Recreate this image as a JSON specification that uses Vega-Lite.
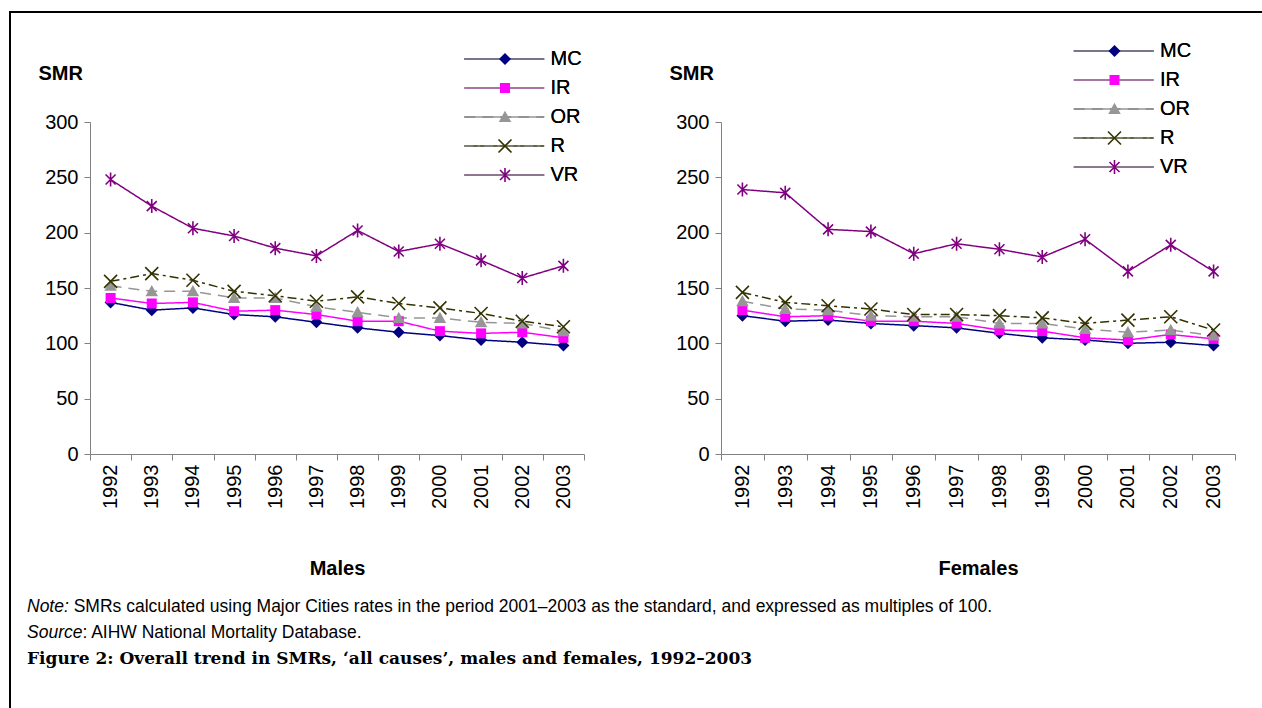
{
  "$schema": "https://vega.github.io/schema/vega-lite/v6.json",
  "padding": {"left": 8, "top": 10, "right": 0, "bottom": 0},
  "background": "white",
  "bounds": "flush",
  "spacing": 137,
  "resolve": {"scale": {"stroke": "independent", "strokeDash": "independent", "fill": "independent", "shape": "independent"}, "legend": {"stroke": "independent", "strokeDash": "independent", "fill": "independent", "shape": "independent"}},
  "datasets": {
    "males": [
      {"region": "MC", "year": 1992, "smr": 137}, {"region": "MC", "year": 1993, "smr": 130}, {"region": "MC", "year": 1994, "smr": 132}, {"region": "MC", "year": 1995, "smr": 126}, {"region": "MC", "year": 1996, "smr": 124}, {"region": "MC", "year": 1997, "smr": 119}, {"region": "MC", "year": 1998, "smr": 114}, {"region": "MC", "year": 1999, "smr": 110}, {"region": "MC", "year": 2000, "smr": 107}, {"region": "MC", "year": 2001, "smr": 103}, {"region": "MC", "year": 2002, "smr": 101}, {"region": "MC", "year": 2003, "smr": 98},
      {"region": "IR", "year": 1992, "smr": 141}, {"region": "IR", "year": 1993, "smr": 136}, {"region": "IR", "year": 1994, "smr": 137}, {"region": "IR", "year": 1995, "smr": 129}, {"region": "IR", "year": 1996, "smr": 130}, {"region": "IR", "year": 1997, "smr": 126}, {"region": "IR", "year": 1998, "smr": 120}, {"region": "IR", "year": 1999, "smr": 120}, {"region": "IR", "year": 2000, "smr": 111}, {"region": "IR", "year": 2001, "smr": 109}, {"region": "IR", "year": 2002, "smr": 110}, {"region": "IR", "year": 2003, "smr": 105},
      {"region": "OR", "year": 1992, "smr": 152}, {"region": "OR", "year": 1993, "smr": 147}, {"region": "OR", "year": 1994, "smr": 147}, {"region": "OR", "year": 1995, "smr": 141}, {"region": "OR", "year": 1996, "smr": 141}, {"region": "OR", "year": 1997, "smr": 133}, {"region": "OR", "year": 1998, "smr": 128}, {"region": "OR", "year": 1999, "smr": 123}, {"region": "OR", "year": 2000, "smr": 123}, {"region": "OR", "year": 2001, "smr": 119}, {"region": "OR", "year": 2002, "smr": 118}, {"region": "OR", "year": 2003, "smr": 111},
      {"region": "R", "year": 1992, "smr": 156}, {"region": "R", "year": 1993, "smr": 163}, {"region": "R", "year": 1994, "smr": 157}, {"region": "R", "year": 1995, "smr": 147}, {"region": "R", "year": 1996, "smr": 143}, {"region": "R", "year": 1997, "smr": 138}, {"region": "R", "year": 1998, "smr": 142}, {"region": "R", "year": 1999, "smr": 136}, {"region": "R", "year": 2000, "smr": 132}, {"region": "R", "year": 2001, "smr": 127}, {"region": "R", "year": 2002, "smr": 120}, {"region": "R", "year": 2003, "smr": 115},
      {"region": "VR", "year": 1992, "smr": 248}, {"region": "VR", "year": 1993, "smr": 224}, {"region": "VR", "year": 1994, "smr": 204}, {"region": "VR", "year": 1995, "smr": 197}, {"region": "VR", "year": 1996, "smr": 186}, {"region": "VR", "year": 1997, "smr": 179}, {"region": "VR", "year": 1998, "smr": 202}, {"region": "VR", "year": 1999, "smr": 183}, {"region": "VR", "year": 2000, "smr": 190}, {"region": "VR", "year": 2001, "smr": 175}, {"region": "VR", "year": 2002, "smr": 159}, {"region": "VR", "year": 2003, "smr": 170}
    ],
    "females": [
      {"region": "MC", "year": 1992, "smr": 125}, {"region": "MC", "year": 1993, "smr": 120}, {"region": "MC", "year": 1994, "smr": 121}, {"region": "MC", "year": 1995, "smr": 118}, {"region": "MC", "year": 1996, "smr": 116}, {"region": "MC", "year": 1997, "smr": 114}, {"region": "MC", "year": 1998, "smr": 109}, {"region": "MC", "year": 1999, "smr": 105}, {"region": "MC", "year": 2000, "smr": 103}, {"region": "MC", "year": 2001, "smr": 100}, {"region": "MC", "year": 2002, "smr": 101}, {"region": "MC", "year": 2003, "smr": 98},
      {"region": "IR", "year": 1992, "smr": 130}, {"region": "IR", "year": 1993, "smr": 124}, {"region": "IR", "year": 1994, "smr": 125}, {"region": "IR", "year": 1995, "smr": 120}, {"region": "IR", "year": 1996, "smr": 120}, {"region": "IR", "year": 1997, "smr": 118}, {"region": "IR", "year": 1998, "smr": 112}, {"region": "IR", "year": 1999, "smr": 111}, {"region": "IR", "year": 2000, "smr": 105}, {"region": "IR", "year": 2001, "smr": 103}, {"region": "IR", "year": 2002, "smr": 108}, {"region": "IR", "year": 2003, "smr": 104},
      {"region": "OR", "year": 1992, "smr": 138}, {"region": "OR", "year": 1993, "smr": 131}, {"region": "OR", "year": 1994, "smr": 130}, {"region": "OR", "year": 1995, "smr": 125}, {"region": "OR", "year": 1996, "smr": 124}, {"region": "OR", "year": 1997, "smr": 124}, {"region": "OR", "year": 1998, "smr": 118}, {"region": "OR", "year": 1999, "smr": 118}, {"region": "OR", "year": 2000, "smr": 113}, {"region": "OR", "year": 2001, "smr": 110}, {"region": "OR", "year": 2002, "smr": 112}, {"region": "OR", "year": 2003, "smr": 107},
      {"region": "R", "year": 1992, "smr": 146}, {"region": "R", "year": 1993, "smr": 137}, {"region": "R", "year": 1994, "smr": 134}, {"region": "R", "year": 1995, "smr": 131}, {"region": "R", "year": 1996, "smr": 126}, {"region": "R", "year": 1997, "smr": 126}, {"region": "R", "year": 1998, "smr": 125}, {"region": "R", "year": 1999, "smr": 123}, {"region": "R", "year": 2000, "smr": 118}, {"region": "R", "year": 2001, "smr": 121}, {"region": "R", "year": 2002, "smr": 124}, {"region": "R", "year": 2003, "smr": 112},
      {"region": "VR", "year": 1992, "smr": 239}, {"region": "VR", "year": 1993, "smr": 236}, {"region": "VR", "year": 1994, "smr": 203}, {"region": "VR", "year": 1995, "smr": 201}, {"region": "VR", "year": 1996, "smr": 181}, {"region": "VR", "year": 1997, "smr": 190}, {"region": "VR", "year": 1998, "smr": 185}, {"region": "VR", "year": 1999, "smr": 178}, {"region": "VR", "year": 2000, "smr": 194}, {"region": "VR", "year": 2001, "smr": 165}, {"region": "VR", "year": 2002, "smr": 189}, {"region": "VR", "year": 2003, "smr": 165}
    ]
  },
  "hconcat": [
    {
      "width": 494,
      "height": 332,
      "data": {"name": "males"},
      "resolve": {"axis": {"x": "independent", "y": "independent"}},
      "layer": [
        {
          "mark": {"type": "line", "strokeWidth": 1.5},
          "encoding": {
            "x": {"field": "year", "type": "quantitative", "scale": {"domain": [1991.5, 2003.5], "nice": false, "zero": false},
              "axis": {"orient": "bottom", "values": [1991.5, 1992.5, 1993.5, 1994.5, 1995.5, 1996.5, 1997.5, 1998.5, 1999.5, 2000.5, 2001.5, 2002.5, 2003.5], "labels": false, "ticks": true, "tickSize": 6, "tickColor": "#808080", "domainColor": "#808080", "title": null, "grid": false}},
            "y": {"field": "smr", "type": "quantitative", "scale": {"domain": [0, 300], "nice": false},
              "axis": {"orient": "left", "values": [0, 50, 100, 150, 200, 250, 300], "tickSize": 6, "tickColor": "#808080", "domainColor": "#808080", "labelFontSize": 20, "labelPadding": 6, "grid": false, "title": "SMR", "titleAngle": 0, "titleAlign": "left", "titleBaseline": "middle", "titleX": -52, "titleY": -49, "titleFontSize": 20, "titleFontWeight": "bold"}},
            "stroke": {"field": "region", "type": "nominal", "sort": ["MC", "IR", "OR", "R", "VR"], "scale": {"range": ["#000080", "#FF00FF", "#969696", "#333300", "#800080"]},
              "legend": {"orient": "none", "legendX": 404.25, "legendY": -73, "title": null, "symbolType": "M-16,0L16,0", "symbolSize": 25, "symbolStrokeWidth": 1.5, "labelFontSize": 20, "labelOffset": 36.25, "rowPadding": 9, "padding": 0}},
            "strokeDash": {"field": "region", "type": "nominal", "sort": ["MC", "IR", "OR", "R", "VR"], "scale": {"range": [[1, 0], [1, 0], [11, 7], [9, 4, 3, 4], [1, 0]]},
              "legend": {"orient": "none", "legendX": 404.25, "legendY": -73, "title": null, "symbolType": "M-16,0L16,0", "symbolSize": 25, "symbolStrokeWidth": 1.5, "labelFontSize": 20, "labelOffset": 36.25, "rowPadding": 9, "padding": 0}}
          }
        },
        {
          "mark": {"type": "point", "filled": true, "opacity": 1, "size": 100, "strokeWidth": 0},
          "encoding": {
            "x": {"field": "year", "type": "quantitative",
              "axis": {"orient": "bottom", "values": [1992, 1993, 1994, 1995, 1996, 1997, 1998, 1999, 2000, 2001, 2002, 2003], "format": "d", "labelAngle": -90, "ticks": false, "tickSize": 0, "domain": false, "labelPadding": 10, "labelFontSize": 20, "grid": false, "title": "Males", "titleFontSize": 20, "titleFontWeight": "bold", "titlePadding": 50}},
            "y": {"field": "smr", "type": "quantitative", "axis": null},
            "fill": {"field": "region", "type": "nominal", "scale": {"domain": ["MC", "IR", "OR", "R", "VR"], "range": ["#000080", "#FF00FF", "#969696", "#333300", "#800080"]},
              "legend": {"orient": "none", "legendX": 405, "legendY": -73, "title": null, "symbolSize": 100, "symbolStrokeWidth": 0, "labelFontSize": 20, "labelOffset": 36.25, "rowPadding": 9, "padding": 0, "labelOpacity": 0}},
            "shape": {"field": "region", "type": "nominal", "scale": {"domain": ["MC", "IR", "OR", "R", "VR"], "range": ["M0,-1.2L1.2,0L0,1.2L-1.2,0Z", "M-1,-1L1,-1L1,1L-1,1Z", "M0,-1.25L1.25,1L-1.25,1Z", "M-1.187,-1.413L1.413,1.187L1.187,1.413L-1.413,-1.187ZM-1.413,1.187L1.187,-1.413L1.413,-1.187L-1.187,1.413Z", "M-0.887,-1.113L1.113,0.887L0.887,1.113L-1.113,-0.887ZM-1.113,0.887L0.887,-1.113L1.113,-0.887L-0.887,1.113ZM0.16,-1.4L0.16,1.4L-0.16,1.4L-0.16,-1.4Z"]},
              "legend": {"orient": "none", "legendX": 405, "legendY": -73, "title": null, "symbolSize": 100, "symbolStrokeWidth": 0, "labelFontSize": 20, "labelOffset": 36.25, "rowPadding": 9, "padding": 0, "labelOpacity": 0}}
          }
        },
        {
          "data": {"values": [{}]},
          "mark": {"type": "rule", "color": "black", "strokeWidth": 2},
          "encoding": {
            "x": {"datum": 1989.5324, "type": "quantitative", "axis": null},
            "x2": {"datum": 2019.97},
            "y": {"datum": 399.4, "type": "quantitative", "axis": null}
          }
        },
        {
          "data": {"values": [{}]},
          "mark": {"type": "rule", "color": "black", "strokeWidth": 2},
          "encoding": {
            "x": {"datum": 1989.5567, "type": "quantitative", "axis": null},
            "y": {"datum": 400.3, "type": "quantitative", "axis": null},
            "y2": {"datum": -229.5}
          }
        },
        {
          "data": {"values": [{"label": "Note:"}]},
          "mark": {"type": "text", "align": "left", "baseline": "middle", "fontSize": 17.5, "fontStyle": "italic", "color": "black"},
          "encoding": {
            "x": {"datum": 1989.9696, "type": "quantitative", "axis": null},
            "y": {"datum": -138.25, "type": "quantitative", "axis": null},
            "text": {"field": "label"}
          }
        },
        {
          "data": {"values": [{"label": "SMRs calculated using Major Cities rates in the period 2001–2003 as the standard, and expressed as multiples of 100."}]},
          "mark": {"type": "text", "align": "left", "baseline": "middle", "fontSize": 17.5, "color": "black"},
          "encoding": {
            "x": {"datum": 1991.104, "type": "quantitative", "axis": null},
            "y": {"datum": -138.25, "type": "quantitative", "axis": null},
            "text": {"field": "label"}
          }
        },
        {
          "data": {"values": [{"label": "Source"}]},
          "mark": {"type": "text", "align": "left", "baseline": "middle", "fontSize": 17.5, "fontStyle": "italic", "color": "black"},
          "encoding": {
            "x": {"datum": 1989.9696, "type": "quantitative", "axis": null},
            "y": {"datum": -161.3, "type": "quantitative", "axis": null},
            "text": {"field": "label"}
          }
        },
        {
          "data": {"values": [{"label": ": AIHW National Mortality Database."}]},
          "mark": {"type": "text", "align": "left", "baseline": "middle", "fontSize": 17.5, "color": "black"},
          "encoding": {
            "x": {"datum": 1991.315, "type": "quantitative", "axis": null},
            "y": {"datum": -161.3, "type": "quantitative", "axis": null},
            "text": {"field": "label"}
          }
        },
        {
          "data": {"values": [{"label": "Figure 2: Overall trend in SMRs, ‘all causes’, males and females, 1992–2003"}]},
          "mark": {"type": "text", "align": "left", "baseline": "middle", "fontSize": 17, "fontWeight": "bold", "font": "DejaVu Serif", "color": "black"},
          "encoding": {
            "x": {"datum": 1989.9696, "type": "quantitative", "axis": null},
            "y": {"datum": -185.2, "type": "quantitative", "axis": null},
            "text": {"field": "label"}
          }
        }
      ]
    },
    {
      "width": 514,
      "height": 332,
      "data": {"name": "females"},
      "resolve": {"axis": {"x": "independent", "y": "independent"}},
      "layer": [
        {
          "mark": {"type": "line", "strokeWidth": 1.5},
          "encoding": {
            "x": {"field": "year", "type": "quantitative", "scale": {"domain": [1991.5, 2003.5], "nice": false, "zero": false},
              "axis": {"orient": "bottom", "values": [1991.5, 1992.5, 1993.5, 1994.5, 1995.5, 1996.5, 1997.5, 1998.5, 1999.5, 2000.5, 2001.5, 2002.5, 2003.5], "labels": false, "ticks": true, "tickSize": 6, "tickColor": "#808080", "domainColor": "#808080", "title": null, "grid": false}},
            "y": {"field": "smr", "type": "quantitative", "scale": {"domain": [0, 300], "nice": false},
              "axis": {"orient": "left", "values": [0, 50, 100, 150, 200, 250, 300], "tickSize": 6, "tickColor": "#808080", "domainColor": "#808080", "labelFontSize": 20, "labelPadding": 6, "grid": false, "title": "SMR", "titleAngle": 0, "titleAlign": "left", "titleBaseline": "middle", "titleX": -52, "titleY": -49, "titleFontSize": 20, "titleFontWeight": "bold"}},
            "stroke": {"field": "region", "type": "nominal", "sort": ["MC", "IR", "OR", "R", "VR"], "scale": {"range": ["#000080", "#FF00FF", "#969696", "#333300", "#800080"]},
              "legend": {"orient": "none", "legendX": 382.75, "legendY": -81, "title": null, "symbolType": "M-16,0L16,0", "symbolSize": 25, "symbolStrokeWidth": 1.5, "labelFontSize": 20, "labelOffset": 36.25, "rowPadding": 9, "padding": 0}},
            "strokeDash": {"field": "region", "type": "nominal", "sort": ["MC", "IR", "OR", "R", "VR"], "scale": {"range": [[1, 0], [1, 0], [11, 7], [9, 4, 3, 4], [1, 0]]},
              "legend": {"orient": "none", "legendX": 382.75, "legendY": -81, "title": null, "symbolType": "M-16,0L16,0", "symbolSize": 25, "symbolStrokeWidth": 1.5, "labelFontSize": 20, "labelOffset": 36.25, "rowPadding": 9, "padding": 0}}
          }
        },
        {
          "mark": {"type": "point", "filled": true, "opacity": 1, "size": 100, "strokeWidth": 0},
          "encoding": {
            "x": {"field": "year", "type": "quantitative",
              "axis": {"orient": "bottom", "values": [1992, 1993, 1994, 1995, 1996, 1997, 1998, 1999, 2000, 2001, 2002, 2003], "format": "d", "labelAngle": -90, "ticks": false, "tickSize": 0, "domain": false, "labelPadding": 10, "labelFontSize": 20, "grid": false, "title": "Females", "titleFontSize": 20, "titleFontWeight": "bold", "titlePadding": 50}},
            "y": {"field": "smr", "type": "quantitative", "axis": null},
            "fill": {"field": "region", "type": "nominal", "scale": {"domain": ["MC", "IR", "OR", "R", "VR"], "range": ["#000080", "#FF00FF", "#969696", "#333300", "#800080"]},
              "legend": {"orient": "none", "legendX": 383.5, "legendY": -81, "title": null, "symbolSize": 100, "symbolStrokeWidth": 0, "labelFontSize": 20, "labelOffset": 36.25, "rowPadding": 9, "padding": 0, "labelOpacity": 0}},
            "shape": {"field": "region", "type": "nominal", "scale": {"domain": ["MC", "IR", "OR", "R", "VR"], "range": ["M0,-1.2L1.2,0L0,1.2L-1.2,0Z", "M-1,-1L1,-1L1,1L-1,1Z", "M0,-1.25L1.25,1L-1.25,1Z", "M-1.187,-1.413L1.413,1.187L1.187,1.413L-1.413,-1.187ZM-1.413,1.187L1.187,-1.413L1.413,-1.187L-1.187,1.413Z", "M-0.887,-1.113L1.113,0.887L0.887,1.113L-1.113,-0.887ZM-1.113,0.887L0.887,-1.113L1.113,-0.887L-0.887,1.113ZM0.16,-1.4L0.16,1.4L-0.16,1.4L-0.16,-1.4Z"]},
              "legend": {"orient": "none", "legendX": 383.5, "legendY": -81, "title": null, "symbolSize": 100, "symbolStrokeWidth": 0, "labelFontSize": 20, "labelOffset": 36.25, "rowPadding": 9, "padding": 0, "labelOpacity": 0}}
          }
        }
      ]
    }
  ],
  "config": {
    "view": {"stroke": null},
    "font": "Liberation Sans",
    "axis": {"labelColor": "black", "titleColor": "black", "labelFont": "Liberation Sans", "titleFont": "Liberation Sans"},
    "legend": {"labelColor": "black", "labelFont": "Liberation Sans"},
    "text": {"font": "Liberation Sans"}
  }
}
